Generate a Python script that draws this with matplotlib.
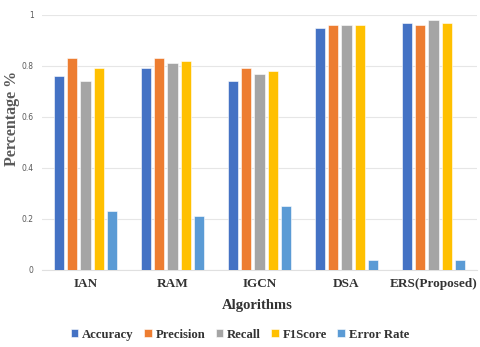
import numpy as np
import matplotlib.pyplot as plt

# ---- data ----
algorithms = ['IAN', 'RAM', 'IGCN', 'DSA', 'ERS(Proposed)']
metrics = ['Accuracy', 'Precision', 'Recall', 'F1Score', 'Error Rate']
accuracy = [0.76, 0.79, 0.74, 0.95, 0.97]
precision = [0.83, 0.83, 0.79, 0.96, 0.96]
recall = [0.74, 0.81, 0.77, 0.96, 0.98]
f1score = [0.79, 0.82, 0.78, 0.96, 0.97]
error_rate = [0.23, 0.21, 0.25, 0.04, 0.04]
yticks = [0, 0.2, 0.4, 0.6, 0.8, 1]
ytick_labels = ['0', '0.2', '0.4', '0.6', '0.8', '1']

colors = ['#4472C4', '#ED7D31', '#A5A5A5', '#FFC000', '#5B9BD5']
serif = ['Liberation Serif', 'DejaVu Serif']

# ---- plot ----
fig = plt.figure(figsize=(4.8, 3.47), dpi=100)
ax = fig.add_axes([0.0875, 0.222, 0.906, 0.735])

x = np.arange(len(algorithms))
step = 0.153
width = 0.118
series = [accuracy, precision, recall, f1score, error_rate]
for i, vals in enumerate(series):
    ax.bar(x + (i - 2) * step, vals, width, color=colors[i], label=metrics[i],
           edgecolor='white', linewidth=0.4, zorder=3)

ax.set_xlim(-0.5, 4.5)
ax.set_ylim(0, 1)
ax.set_yticks(yticks)
ax.set_yticklabels(ytick_labels)
ax.yaxis.grid(True, color='#E6E6E6', linewidth=0.8, zorder=0)
ax.tick_params(axis='y', length=0, labelsize=5.5, labelcolor='#595959', pad=6)
ax.tick_params(axis='x', length=0, pad=6)
ax.set_xticks(x)
ax.set_xticklabels(algorithms, fontfamily=serif, fontweight='bold', fontsize=9.5, color='#333333')

for s in ['top', 'right', 'left']:
    ax.spines[s].set_visible(False)
ax.spines['bottom'].set_color('#E0E0E0')

# y label placed by hand so it sits close to the left edge
fig.text(0.024, 0.66, 'Percentage %', rotation=90, ha='center', va='center',
         fontfamily=serif, fontweight='bold', fontsize=11.5, color='#595959')
fig.text(0.535, 0.12, 'Algorithms', ha='center', va='center',
         fontfamily=serif, fontweight='bold', fontsize=10.5, color='#333333')

leg = fig.legend(loc='center', bbox_to_anchor=(0.5, 0.035), ncol=5, frameon=False,
                 handlelength=0.6, handleheight=0.6, handletextpad=0.3, columnspacing=0.8,
                 prop={'family': serif, 'weight': 'bold', 'size': 9.2})
for t in leg.get_texts():
    t.set_color('#333333')

fig.savefig('out.png', dpi=100)
